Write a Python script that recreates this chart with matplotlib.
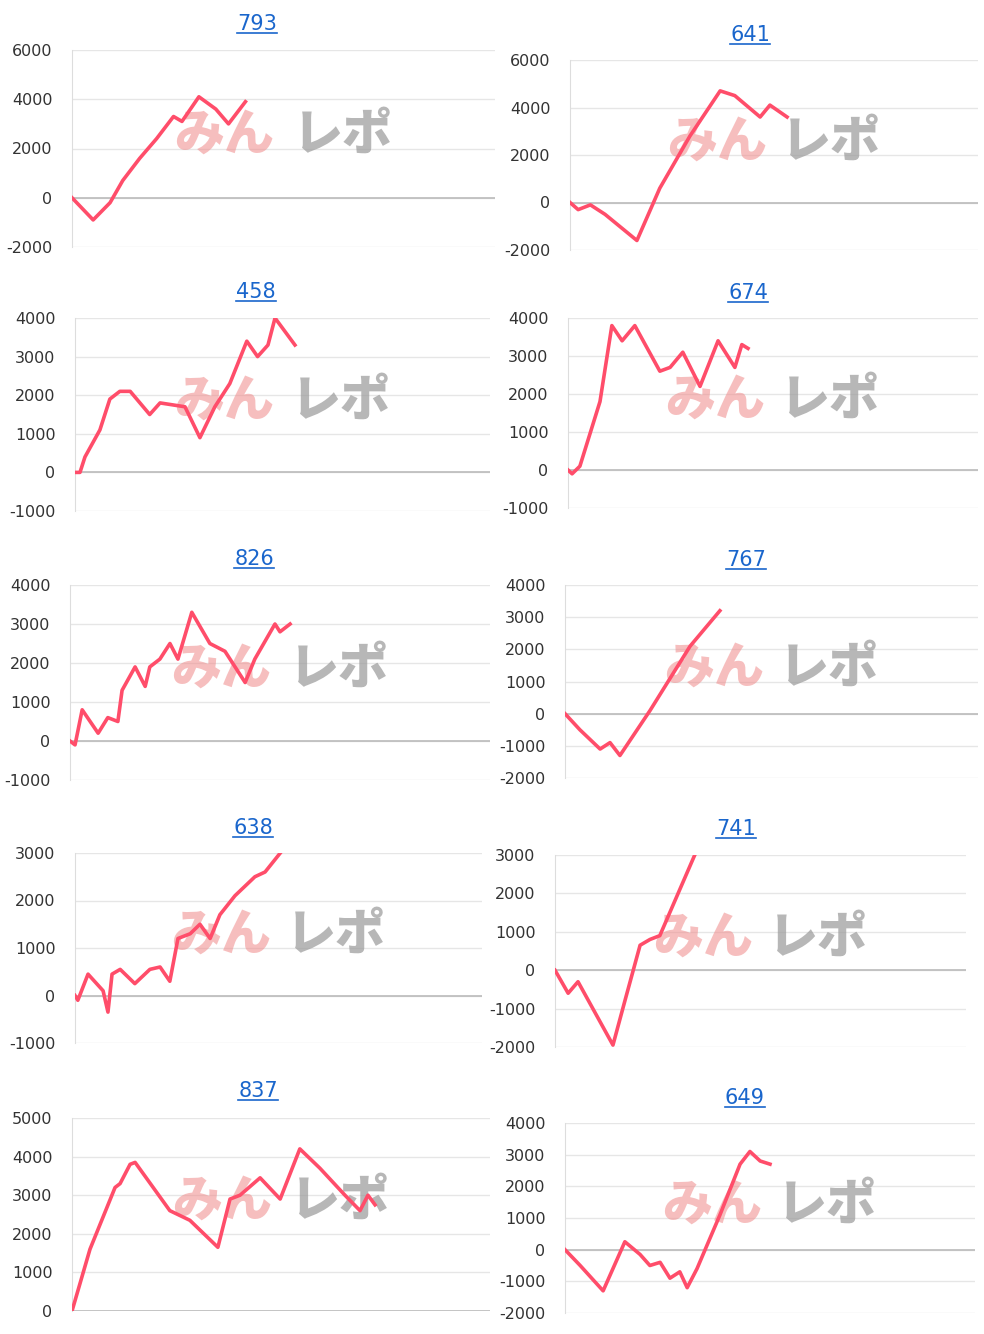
import matplotlib
matplotlib.use("Agg")
import matplotlib.pyplot as plt
plt.rcParams['axes.unicode_minus'] = False

titles = ["793","641","458","674","826","767","638","741","837","649"]
xs = [
 [0,5,9,12,16,20,24,26,30,34,37,41],
 [0,2,5,8.6,16.4,22,29.4,36.8,40.4,46.6,49,53.2],
 [0,1.2,2.4,6,8.4,10.8,13.3,18,20.5,26.5,30.1,33.7,37.3,41.4,44,46.5,48.2,53],
 [0,1,2.9,7.8,10.7,13.2,16.3,22.4,24.9,28,32.2,36.6,40.7,42.4,43.9],
 [0,1.2,2.9,6.7,9,11.4,12.4,15.5,17.9,19,21.4,23.8,25.7,29,33.3,36.9,41.7,44,48.8,50,52.4],
 [0,3.6,8.5,10.9,13.3,20.6,30.3,37.5],
 [0,0.7,3.2,6.9,8.1,9.1,11.1,14.7,18.4,20.9,23.3,25.3,28.3,30.7,33.2,35.6,39.3,44.2,46.7,50.9],
 [0,3.2,5.6,14.1,17,20.7,23.1,25.5,34,35.3],
 [0,4.3,10.3,11.5,13.9,15.1,23.4,28.2,34.9,37.8,40.2,45,49.8,54.5,59.3,65.3,68.9,70.8,72.5],
 [0,3.7,9.3,14.6,18.3,20.7,23.2,25.6,28,29.8,32.2,37.8,42.7,45.1,47.6,50],
]
ys = [
 [0,-900,-200,700,1600,2400,3300,3100,4100,3600,3000,3900],
 [0,-300,-100,-500,-1600,600,2800,4700,4500,3600,4100,3600],
 [0,0,400,1100,1900,2100,2100,1500,1800,1700,900,1700,2300,3400,3000,3300,4000,3300],
 [0,-100,100,1800,3800,3400,3800,2600,2700,3100,2200,3400,2700,3300,3200],
 [0,-100,800,200,600,500,1300,1900,1400,1900,2100,2500,2100,3300,2500,2300,1500,2100,3000,2800,3000],
 [0,-500,-1100,-900,-1300,100,2100,3200],
 [0,-100,450,100,-350,450,550,250,550,600,300,1200,1300,1500,1200,1700,2100,2500,2600,3050],
 [0,-600,-300,-1950,-800,650,800,900,3000,3250],
 [0,1600,3200,3300,3800,3850,2600,2350,1650,2900,3000,3450,2900,4200,3700,3000,2600,3000,2750],
 [0,-500,-1300,250,-150,-500,-400,-900,-700,-1200,-600,1100,2700,3100,2800,2700],
]
ylims = [(-2000,6000,2000),(-2000,6000,2000),(-1000,4000,1000),(-1000,4000,1000),(-1000,4000,1000),
         (-2000,4000,1000),(-1000,3000,1000),(-2000,3000,1000),(0,5000,1000),(-2000,4000,1000)]
boxes = [(72,495,50,247),(570,978,60,250),(75,490,318,511),(568,978,318,508),(70,490,585,780),
         (565,978,585,778),(75,482,853,1043),(555,966,855,1047),(72,490,1118,1311),(565,975,1123,1313)]
title_pos = [(257,24),(750,35),(256,292),(748,293),(254,559),(746,560),(253,828),(736,829),(258,1091),(745,1098)]

W,H = 984,1334
fig = plt.figure(figsize=(W/100,H/100), dpi=100)
tts = []
for i in range(10):
    x0,x1,yt,yb = boxes[i]
    ax = fig.add_axes([x0/W, 1-yb/H, (x1-x0)/W, (yb-yt)/H])
    lo,hi,st = ylims[i]
    ax.set_ylim(lo,hi); ax.set_xlim(0,100)
    ax.set_yticks(range(lo,hi+1,st))
    ax.set_xticks([])
    ax.grid(axis='y', color='#e6e6e6', lw=1)
    ax.axhline(0, color='#bbbbbb', lw=1.2, zorder=1)
    for s in ['top','right','bottom']:
        ax.spines[s].set_visible(False)
    ax.spines['left'].set_color('#dddddd')
    ax.tick_params(axis='y', length=0, labelsize=11.5, colors='#333333', pad=14)
    ax.set_axisbelow(True)
    ax.text(0.36,0.57,"みん", transform=ax.transAxes, fontsize=36, style='italic', weight='black',
            color='#f08a8a', alpha=0.55, ha='center', va='center', family=['Noto Sans CJK JP'], zorder=3)
    ax.text(0.64,0.57,"レポ", transform=ax.transAxes, fontsize=36, style='italic', weight='black',
            color='#999999', alpha=0.7, ha='center', va='center', family=['Noto Sans CJK JP'], zorder=3)
    ax.plot(xs[i], ys[i], color='#ff4d6a', lw=2.6, zorder=4, solid_joinstyle='round')
    tx, ty = title_pos[i]
    tts.append(fig.text(tx/W, 1-ty/H, titles[i], fontsize=15, color='#1a66cc', ha='center', va='center'))
fig.canvas.draw()
for t in tts:
    bb = t.get_window_extent()
    fig.add_artist(plt.Line2D([bb.x0/W, bb.x1/W], [(bb.y0+1)/H]*2, color='#1a66cc', lw=1.2))
fig.savefig("out.png", dpi=100, facecolor='white')
